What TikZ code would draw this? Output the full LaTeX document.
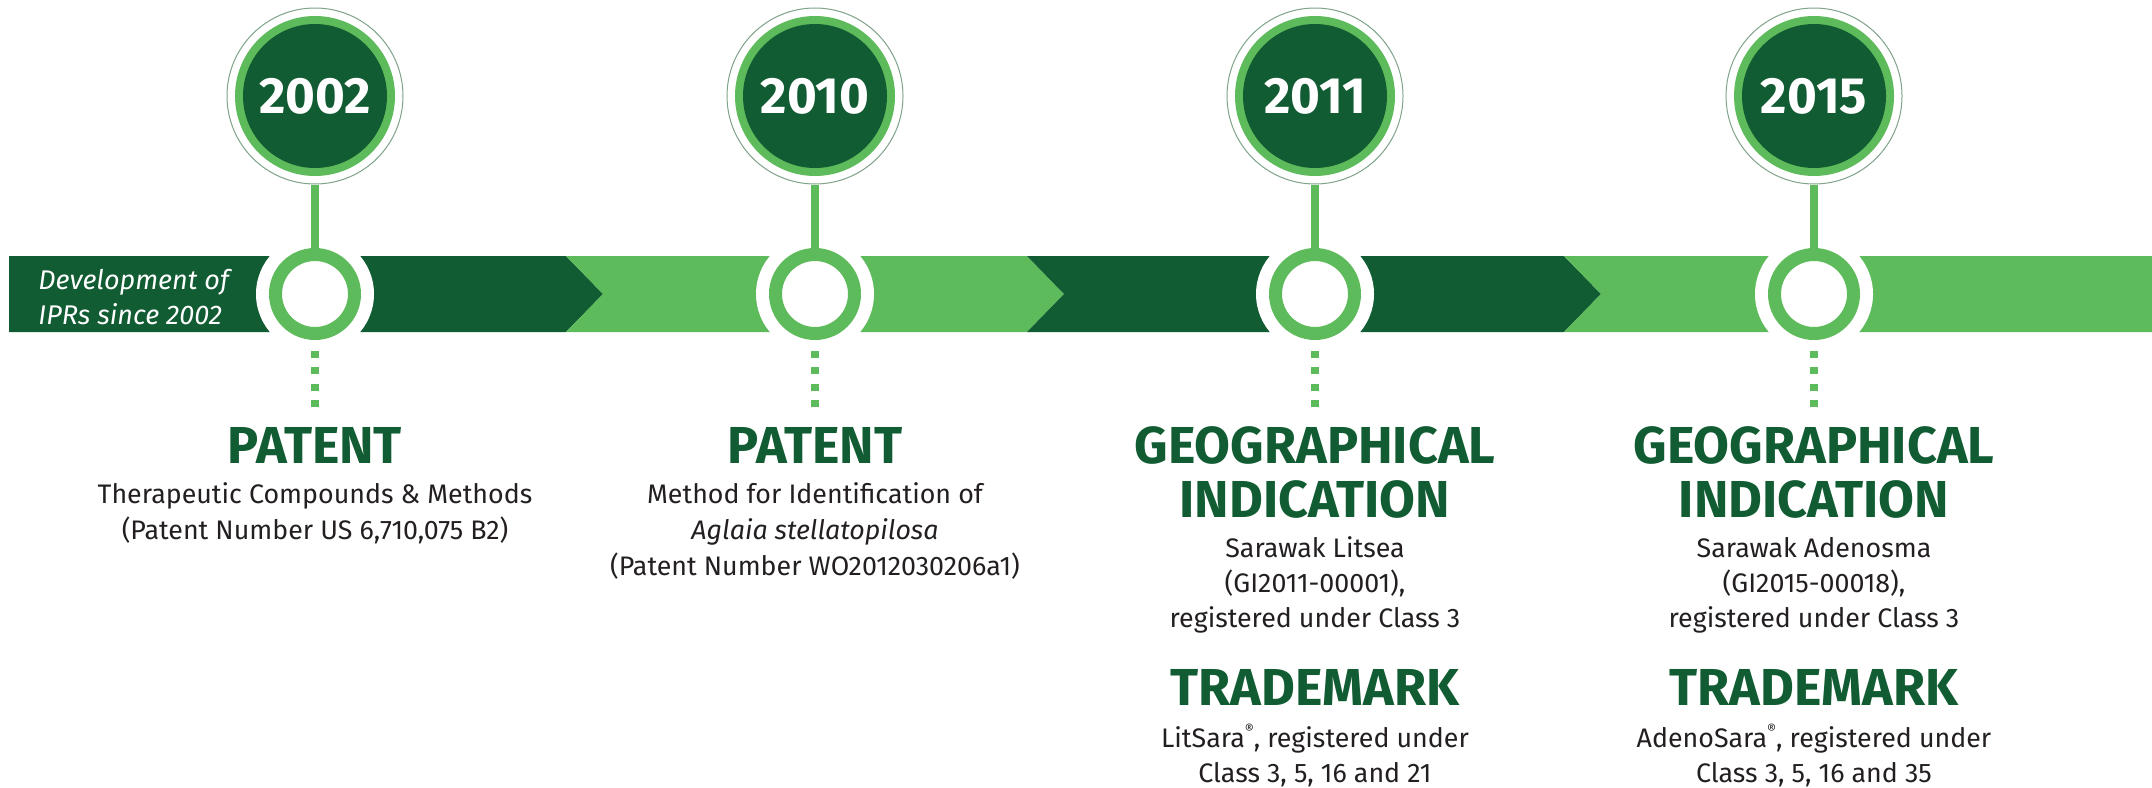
\documentclass[tikz,border=0pt]{standalone}
\usepackage{fontspec}
\setmainfont{Fira Sans}
\definecolor{darkgr}{HTML}{115C32}
\definecolor{lightgr}{HTML}{5EBB5B}
\definecolor{ringline}{HTML}{7FA38A}
\definecolor{bodytext}{HTML}{231F20}
\newcommand{\regmark}{\raisebox{0.45em}{\fontsize{7}{7}\selectfont ®}}
\begin{document}
\begin{tikzpicture}[x=0.5pt,y=-0.5pt,
  yearbadge/.style={circle, draw=ringline, line width=0.5pt, minimum size=88pt, inner sep=0pt,
    text=white, font=\bfseries\fontsize{25.5}{30}\selectfont,
    path picture={
      \fill[lightgr] (path picture bounding box.center) circle[radius=40pt];
      \fill[darkgr] (path picture bounding box.center) circle[radius=36pt];}},
  markring/.style={circle, draw=lightgr, line width=6.5pt, minimum size=39.5pt, inner sep=0pt, fill=white},
  stem/.style={draw=lightgr, line width=4pt},
  dots/.style={draw=lightgr, line width=4pt, dash pattern=on 3.5pt off 4.6pt},
  heading/.style={anchor=base, inner sep=0pt, text=darkgr, font=\bfseries\fontsize{26}{27}\selectfont},
  bodytxt/.style={anchor=base, inner sep=0pt, text=bodytext, font=\fontsize{13.4}{17.75}\selectfont},
  bandtxt/.style={anchor=base west, inner sep=0pt, text=white, font=\itshape\fontsize{13.5}{17.5}\selectfont}
]
\useasboundingbox (0,0) rectangle (2152,787);

% timeline band: alternating chevron segments
\fill[darkgr] (9,256) -- (566,256) -- (603,294) -- (566,332) -- (9,332) -- cycle;
\fill[lightgr] (566,256) -- (1027,256) -- (1064,294) -- (1027,332) -- (566,332) -- (603,294) -- cycle;
\fill[darkgr] (1027,256) -- (1564,256) -- (1601,294) -- (1564,332) -- (1027,332) -- (1064,294) -- cycle;
\fill[lightgr] (1564,256) -- (2152,256) -- (2152,332) -- (1564,332) -- (1601,294) -- cycle;

\node[bandtxt] (intro1) at (38,289) {Development of};
\node[bandtxt] (intro2) at (38,324) {IPRs since 2002};

% milestones: year badge, stem, ring on the band, dotted drop line
\foreach \i/\x/\yr in {1/315/2002, 2/815/2010, 3/1315/2011, 4/1814/2015}{
  \coordinate (c\i) at (\x,294);
  \fill[white] (c\i) circle[radius=59];
  \node[markring] (m\i) at (c\i) {};
  \node[yearbadge] (y\i) at (\x,96) {\raisebox{-2pt}{\yr}};
  \draw[stem] (y\i.south) -- (m\i.north);
  \draw[dots] ([yshift=-5.6pt]m\i.south) -- ++(0,56);
}

% column 1
\node[heading] (h1) at (315,463) {PATENT};
\node[bodytxt] (b1a) at (315,503) {Therapeutic Compounds \& Methods};
\node[bodytxt] (b1b) at (315,539) {(Patent Number US 6,710,075 B2)};

% column 2
\node[heading] (h2) at (815,463) {PATENT};
\node[bodytxt] (b2a) at (815,503) {Method for Identification of};
\node[bodytxt] (b2b) at (815,539) {\textit{Aglaia stellatopilosa}};
\node[bodytxt] (b2c) at (815,575) {(Patent Number WO2012030206a1)};

% column 3
\node[heading] (h3a) at (1315,463) {GEOGRAPHICAL};
\node[heading] (h3b) at (1315,517) {INDICATION};
\node[bodytxt] (b3a) at (1315,557) {Sarawak Litsea};
\node[bodytxt] (b3b) at (1315,592) {(GI2011-00001),};
\node[bodytxt] (b3c) at (1315,627) {registered under Class 3};
\node[heading] (t3) at (1315,705) {TRADEMARK};
\node[bodytxt] (r3a) at (1315,747) {LitSara\regmark, registered under};
\node[bodytxt] (r3b) at (1315,782) {Class 3, 5, 16 and 21};

% column 4
\node[heading] (h4a) at (1814,463) {GEOGRAPHICAL};
\node[heading] (h4b) at (1814,517) {INDICATION};
\node[bodytxt] (b4a) at (1814,557) {Sarawak Adenosma};
\node[bodytxt] (b4b) at (1814,592) {(GI2015-00018),};
\node[bodytxt] (b4c) at (1814,627) {registered under Class 3};
\node[heading] (t4) at (1814,705) {TRADEMARK};
\node[bodytxt] (r4a) at (1814,747) {AdenoSara\regmark, registered under};
\node[bodytxt] (r4b) at (1814,782) {Class 3, 5, 16 and 35};
\end{tikzpicture}
\end{document}
